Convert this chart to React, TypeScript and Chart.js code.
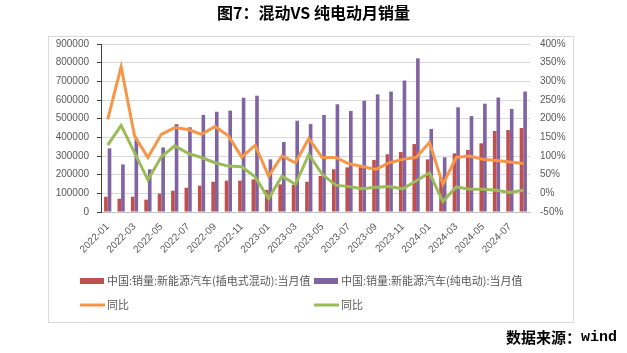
import React, { useEffect, useRef } from "react";
import { Chart, registerables } from "chart.js";
Chart.register(...registerables);

const months = [
  "2022-01", "2022-02", "2022-03", "2022-04", "2022-05", "2022-06", "2022-07", "2022-08",
  "2022-09", "2022-10", "2022-11", "2022-12", "2023-01", "2023-02", "2023-03", "2023-04",
  "2023-05", "2023-06", "2023-07", "2023-08", "2023-09", "2023-10", "2023-11", "2023-12",
  "2024-01", "2024-02", "2024-03", "2024-04", "2024-05", "2024-06", "2024-07", "2024-08",
];

const phevSales = [
  82000, 71000, 82000, 66000, 98000, 114000, 130000, 141000,
  162000, 168000, 168000, 175000, 118000, 148000, 145000, 162000,
  193000, 229000, 239000, 241000, 279000, 309000, 321000, 364000,
  282000, 185000, 314000, 332000, 368000, 434000, 439000, 450000,
];

const bevSales = [
  341000, 255000, 395000, 229000, 346000, 471000, 454000, 520000,
  537000, 543000, 612000, 623000, 282000, 375000, 489000, 471000,
  520000, 577000, 541000, 596000, 630000, 645000, 705000, 823000,
  445000, 293000, 561000, 514000, 580000, 613000, 552000, 645000,
];

const phevYoy = [
  198, 339, 154, 96, 158, 176, 171, 158,
  179, 154, 97, 129, 46, 100, 82, 147,
  96, 96, 79, 72, 64, 82, 91, 96,
  136, 24, 96, 100, 91, 88, 84, 80,
];

const bevYoy = [
  129, 182, 109, 36, 98, 127, 107, 96,
  82, 73, 71, 44, -14, 46, 24, 104,
  51, 22, 18, 12, 16, 18, 12, 33,
  55, -22, 17, 11, 11, 8, 2, 8,
];

const seriesNames = [
  "中国:销量:新能源汽车(插电式混动):当月值",
  "中国:销量:新能源汽车(纯电动):当月值",
  "同比",
  "同比",
];

const titleText = "图7：混动VS 纯电动月销量";
const sourceText = "数据来源：";
const sourceWord = "wind";

const LATIN = '"Liberation Sans", Arial, sans-serif';
const CJK = '"Noto Sans CJK SC", "Liberation Sans", sans-serif';
const GREY = "#595959";

const decorPlugin = {
  id: "decor",
  beforeDraw(chart: any) {
    const ctx = chart.ctx;
    ctx.save();
    ctx.fillStyle = "#ffffff";
    ctx.fillRect(0, 0, chart.width, chart.height);
    ctx.strokeStyle = "#d9d9d9";
    ctx.lineWidth = 1;
    ctx.strokeRect(48.5, 36.5, 525, 286);
    ctx.restore();
  },
  afterDraw(chart: any) {
    const ctx = chart.ctx;
    ctx.save();
    // title
    ctx.fillStyle = "#000000";
    ctx.font = `bold 16px ${CJK}`;
    ctx.textAlign = "center";
    ctx.textBaseline = "middle";
    ctx.fillText(titleText, 313.5, 13);
    // source
    ctx.textAlign = "left";
    ctx.font = `bold 15px "Liberation Mono", monospace`;
    const ww = ctx.measureText(sourceWord).width;
    ctx.font = `bold 15px ${CJK}`;
    const sw = ctx.measureText(sourceText).width;
    const sx = 617 - ww - sw;
    ctx.fillText(sourceText, sx, 337);
    ctx.font = `bold 15px "Liberation Mono", monospace`;
    ctx.fillText(sourceWord, sx + sw, 337);
    // legend
    const ds = chart.data.datasets;
    const pos = [
      [80, 281],
      [314, 281],
      [80, 305],
      [314, 305],
    ];
    ctx.font = `11px ${CJK}`;
    ctx.textBaseline = "middle";
    ds.forEach((d: any, i: number) => {
      const [x, y] = pos[i];
      if (d.type === "bar") {
        ctx.fillStyle = d.backgroundColor;
        ctx.fillRect(x, y - 3, 24, 6);
      } else {
        ctx.strokeStyle = d.borderColor;
        ctx.lineWidth = 3;
        ctx.beginPath();
        ctx.moveTo(x, y);
        ctx.lineTo(x + 25, y);
        ctx.stroke();
      }
      ctx.fillStyle = GREY;
      ctx.fillText(d.label, x + 27, y);
    });
    ctx.restore();
  },
};

export default function App() {
  const ref = useRef<HTMLCanvasElement | null>(null);
  useEffect(() => {
    document.body.style.margin = "0";
    const canvas = ref.current;
    if (!canvas) return;
    const chart = new Chart(canvas, {
      type: "bar",
      data: {
        labels: months,
        datasets: [
          {
            type: "bar",
            label: seriesNames[0],
            data: phevSales,
            backgroundColor: "#C0504D",
            yAxisID: "y",
            order: 2,
            categoryPercentage: 0.54,
            barPercentage: 1,
          },
          {
            type: "bar",
            label: seriesNames[1],
            data: bevSales,
            backgroundColor: "#8064A2",
            yAxisID: "y",
            order: 2,
            categoryPercentage: 0.54,
            barPercentage: 1,
          },
          {
            type: "line",
            label: seriesNames[2],
            data: phevYoy,
            borderColor: "#F79646",
            backgroundColor: "#F79646",
            borderWidth: 3,
            pointRadius: 0,
            tension: 0,
            yAxisID: "y1",
            order: 1,
          },
          {
            type: "line",
            label: seriesNames[3],
            data: bevYoy,
            borderColor: "#9BBB59",
            backgroundColor: "#9BBB59",
            borderWidth: 3,
            pointRadius: 0,
            tension: 0,
            yAxisID: "y1",
            order: 1,
          },
        ] as any,
      },
      options: {
        responsive: false,
        animation: false,
        devicePixelRatio: 1,
        layout: { padding: { left: 0, right: 0, top: 44, bottom: 0 } },
        plugins: {
          legend: { display: false },
          tooltip: { enabled: false },
          title: { display: false },
        },
        scales: {
          x: {
            offset: true,
            grid: { display: false, drawTicks: false },
            border: { display: true, color: "#bfbfbf", width: 1 },
            ticks: {
              autoSkip: false,
              maxRotation: 45,
              minRotation: 45,
              padding: 9,
              color: GREY,
              font: { size: 10, family: LATIN },
              callback: (_v: any, i: number) => (i % 2 === 0 ? months[i] : ""),
            },
            afterFit: (s: any) => {
              s.height = 141;
            },
          },
          y: {
            position: "left",
            min: 0,
            max: 900000,
            grid: {
              color: "#d9d9d9",
              drawTicks: true,
              tickLength: 4,
              tickColor: "#404040",
            },
            border: { display: true, color: "#404040", width: 1 },
            ticks: {
              stepSize: 100000,
              padding: 8,
              color: GREY,
              font: { size: 10, family: LATIN },
              callback: (v: any) => String(v),
            },
            afterFit: (s: any) => {
              s.width = 101;
            },
          },
          y1: {
            position: "right",
            min: -50,
            max: 400,
            grid: { display: false, drawTicks: false },
            border: { display: false },
            ticks: {
              stepSize: 50,
              padding: 10,
              color: GREY,
              font: { size: 10, family: LATIN },
              callback: (v: any) => `${v}%`,
            },
            afterFit: (s: any) => {
              s.width = 97;
            },
          },
        },
      },
      plugins: [decorPlugin],
    } as any);
    return () => chart.destroy();
  }, []);
  return (
    <div style={{ position: "absolute", left: 0, top: 0, width: 627, height: 353 }}>
      <canvas ref={ref} width={627} height={353} style={{ width: 627, height: 353, display: "block" }} />
    </div>
  );
}
